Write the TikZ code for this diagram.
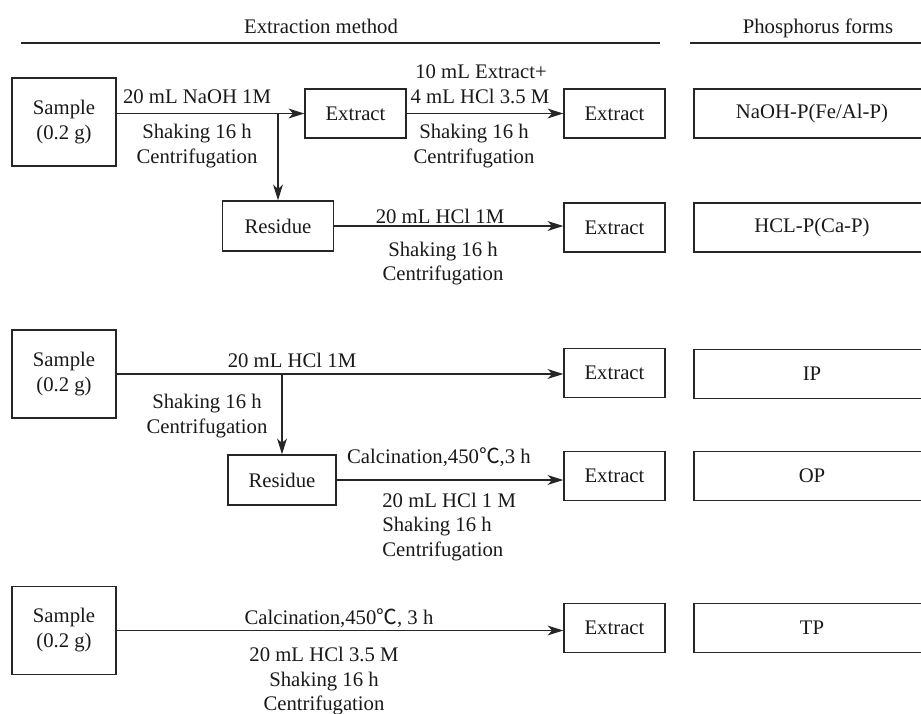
\documentclass[tikz,border=0pt]{standalone}
\usepackage{fontspec}
\setmainfont{Liberation Serif}
\newfontfamily\cjk{Noto Sans CJK SC}
\usepackage{tikz}
\usetikzlibrary{arrows.meta}
\usetikzlibrary{calc}
\newcommand{\degc}{{\cjk ℃}}
\tikzset{
  every node/.style={font=\fontsize{11.8}{14.2}\selectfont, text=black!90},
  box/.style={draw=black!85, line width=0.75pt, inner sep=0pt, align=center},
  samplebox/.style={box, minimum width=2.08cm, minimum height=1.76cm},
  extbox/.style={box, minimum width=2.02cm, minimum height=0.98cm},
  resbox/.style={box, minimum width=2.22cm, minimum height=1cm},
  formbox/.style={box, minimum width=4.72cm, minimum height=0.98cm},
  lbl/.style={anchor=base, inner sep=0pt, align=center},
  arr/.style={draw=black!85, line width=0.75pt, -{Stealth[length=9pt, width=5.6pt, inset=2.6pt]}},
  rule/.style={draw=black!85, line width=0.75pt}
}

\begin{document}
\begin{tikzpicture}[x=0.02cm, y=-0.02cm]
  \useasboundingbox (0, 0) rectangle (921, 714);

  \node[lbl] (hmeth) at (321, 33) {Extraction method};
  \node[lbl] (hform) at (818, 33) {Phosphorus forms};
  \draw[rule] (21, 43) -- (660, 43);
  \draw[rule] (690, 43) -- (921, 43);

  % NaOH / HCl sequence
  \node[samplebox] (s1) at (64, 122) {Sample\\(0.2 g)};
  \node[extbox] (e1) at (355.5, 113.5) {Extract};
  \node[extbox] (e2) at (614.5, 113.5) {Extract};
  \node[formbox] (f1) at (812, 113.5) {NaOH-P(Fe/Al-P)};
  \node[resbox] (r1) at (278, 226) {Residue};
  \node[extbox] (e3) at (614.5, 227.5) {Extract};
  \node[formbox] (f2) at (812, 227.5) {HCL-P(Ca-P)};

  \coordinate (j1) at (r1 |- e1);
  \draw[arr] (s1.east |- e1) -- (e1);
  \draw[arr] (j1) -- (r1);
  \draw[arr] (e1) -- (e2);
  \draw[arr] (r1) -- (r1 -| e3.west);

  \node[lbl] (t1a) at (197, 103) {20 mL NaOH 1M};
  \node[lbl] (t1b) at (197, 138) {Shaking 16 h};
  \node[lbl] (t1c) at (197, 163) {Centrifugation};
  \node[lbl] (t2a) at (481, 78) {10 mL Extract+};
  \node[lbl] (t2b) at (480, 103) {4 mL HCl 3.5 M};
  \node[lbl] (t2c) at (474, 138) {Shaking 16 h};
  \node[lbl] (t2d) at (474, 163) {Centrifugation};
  \node[lbl] (t3a) at (440, 223) {20 mL HCl 1M};
  \node[lbl] (t3b) at (443, 256) {Shaking 16 h};
  \node[lbl] (t3c) at (443, 280) {Centrifugation};

  % IP / OP sequence
  \node[samplebox] (s2) at (64, 374) {Sample\\(0.2 g)};
  \node[extbox] (e4) at (614.5, 373) {Extract};
  \node[formbox] (f3) at (812, 374) {IP};
  \node[resbox, minimum width=2.16cm] (r2) at (282, 480) {Residue};
  \node[extbox] (e5) at (614.5, 476) {Extract};
  \node[formbox] (f4) at (812, 476) {OP};

  \coordinate (j2) at (r2 |- s2);
  \draw[arr] (s2) -- (s2 -| e4.west);
  \draw[arr] (j2) -- (r2);
  \draw[arr] (r2) -- (r2 -| e5.west);

  \node[lbl] (t4a) at (292, 367) {20 mL HCl 1M};
  \node[lbl] (t4b) at (207, 408) {Shaking 16 h};
  \node[lbl] (t4c) at (207, 433) {Centrifugation};
  \node[lbl] (t5a) at (439, 463) {Calcination,450\degc,3 h};
  \node[lbl, anchor=base west] (t5b) at (382, 507) {20 mL HCl 1 M};
  \node[lbl, anchor=base west] (t5c) at (382, 531) {Shaking 16 h};
  \node[lbl, anchor=base west] (t5d) at (382, 556) {Centrifugation};

  % TP
  \node[samplebox] (s3) at (64, 630.5) {Sample\\(0.2 g)};
  \node[extbox] (e6) at (614.5, 628) {Extract};
  \node[formbox] (f5) at (812, 628) {TP};
  \draw[arr] (s3) -- (s3 -| e6.west);

  \node[lbl] (t6a) at (339, 624) {Calcination,450\degc, 3 h};
  \node[lbl] (t6b) at (324, 661) {20 mL HCl 3.5 M};
  \node[lbl] (t6c) at (324, 686) {Shaking 16 h};
  \node[lbl] (t6d) at (324, 710) {Centrifugation};
\end{tikzpicture}
\end{document}
